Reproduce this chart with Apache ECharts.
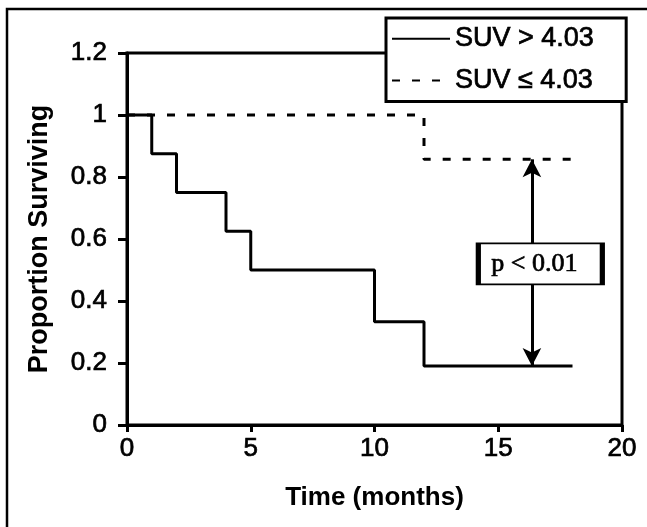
<!DOCTYPE html>
<html>
<head>
<meta charset="utf-8">
<script src="https://cdn.jsdelivr.net/npm/echarts@6/dist/echarts.min.js"></script>
<style>
html, body { margin: 0; padding: 0; background: #fff; }
#chart { width: 647px; height: 527px; }
</style>
</head>
<body>
<div id="chart"></div>
<script>
// survival curves (months, proportion)
const highTimes = [0, 1, 2, 4, 5, 10, 12, 18];
const highSurv = [1, 0.875, 0.75, 0.625, 0.5, 0.333, 0.19, 0.19];
const lowTimes = [0, 12, 18];
const lowSurv = [1, 0.857, 0.857];
const seriesNames = ["SUV > 4.03", "SUV \u2264 4.03"];
const pText = "p < 0.01";
const arrowX = 16.36;
const boxPos = [16.7, 0.52];

const chart = echarts.init(document.getElementById("chart"));
const font = "Liberation Sans, Arial, sans-serif";
// the scanned figure has heavy strokes, so thicken plain text a little
const heavy = { textBorderColor: "#000", textBorderWidth: 0.7 };

const option = {
  backgroundColor: "#fff",
  animation: false,
  graphic: [{
    type: "rect",
    shape: { x: 7, y: 9, width: 700, height: 600 },
    style: { fill: "none", stroke: "#000", lineWidth: 2.5 },
    z: 0
  }],
  grid: {
    left: 127, right: 25, top: 53, bottom: 102,
    show: true, borderColor: "#000", borderWidth: 3, backgroundColor: "transparent"
  },
  legend: {
    data: seriesNames,
    orient: "vertical",
    left: 386, top: 18,
    itemWidth: 58, itemHeight: 14, itemGap: 14,
    padding: [7, 32, 7, 5],
    backgroundColor: "#fff",
    borderColor: "#000", borderWidth: 3,
    itemStyle: { opacity: 0 },
    textStyle: Object.assign({ fontFamily: font, fontSize: 27, color: "#000" }, heavy)
  },
  xAxis: {
    type: "value", min: 0, max: 20, interval: 5,
    name: "Time (months)", nameLocation: "middle", nameGap: 60,
    nameTextStyle: { fontFamily: font, fontSize: 26, fontWeight: "bold", color: "#000" },
    axisLine: { lineStyle: { color: "#000", width: 3 } },
    axisTick: { show: true, length: 7, lineStyle: { color: "#000", width: 3 } },
    axisLabel: Object.assign({ fontFamily: font, fontSize: 26, color: "#000", margin: 11 }, heavy),
    splitLine: { show: false }
  },
  yAxis: {
    type: "value", min: 0, max: 1.2, interval: 0.2,
    name: "Proportion Surviving", nameLocation: "middle", nameGap: 74,
    nameTextStyle: { fontFamily: font, fontSize: 27, fontWeight: "bold", color: "#000" },
    axisLine: { show: true, lineStyle: { color: "#000", width: 3 } },
    axisTick: { show: true, length: 9, lineStyle: { color: "#000", width: 3 } },
    axisLabel: Object.assign({ fontFamily: font, fontSize: 26, color: "#000", margin: 20,
      formatter: v => String(Math.round(v * 10) / 10) }, heavy),
    splitLine: { show: false }
  },
  series: [
    {
      name: seriesNames[0],
      type: "line",
      step: "end",
      symbol: "none",
      z: 3,
      lineStyle: { color: "#000", width: 3 },
      itemStyle: { color: "#000" },
      data: highTimes.map((t, i) => [t, highSurv[i]]),
      markLine: {
        silent: true,
        symbol: ["arrow", "arrow"],
        symbolSize: [14, 18],
        lineStyle: { color: "#000", width: 3, type: "solid" },
        label: { show: false },
        data: [[
          { coord: [arrowX, lowSurv[1]] },
          { coord: [arrowX, highSurv[6]] }
        ]]
      }
    },
    {
      name: seriesNames[1],
      type: "line",
      step: "end",
      symbol: "none",
      z: 4,
      lineStyle: { color: "#000", width: 3, type: [8, 12] },
      itemStyle: { color: "#000" },
      data: lowTimes.map((t, i) => [t, lowSurv[i]]),
      markPoint: {
        silent: true,
        symbol: "rect",
        symbolSize: [124, 41],
        itemStyle: { color: "#fff", borderColor: "#000", borderWidth: 3 },
        label: Object.assign({
          show: true, position: "inside", formatter: pText, offset: [-6, 0],
          fontFamily: "Liberation Serif, Times New Roman, serif", fontSize: 26, color: "#000"
        }, heavy),
        data: [{ coord: boxPos }]
      }
    }
  ]
};
chart.setOption(option);
</script>
</body>
</html>
